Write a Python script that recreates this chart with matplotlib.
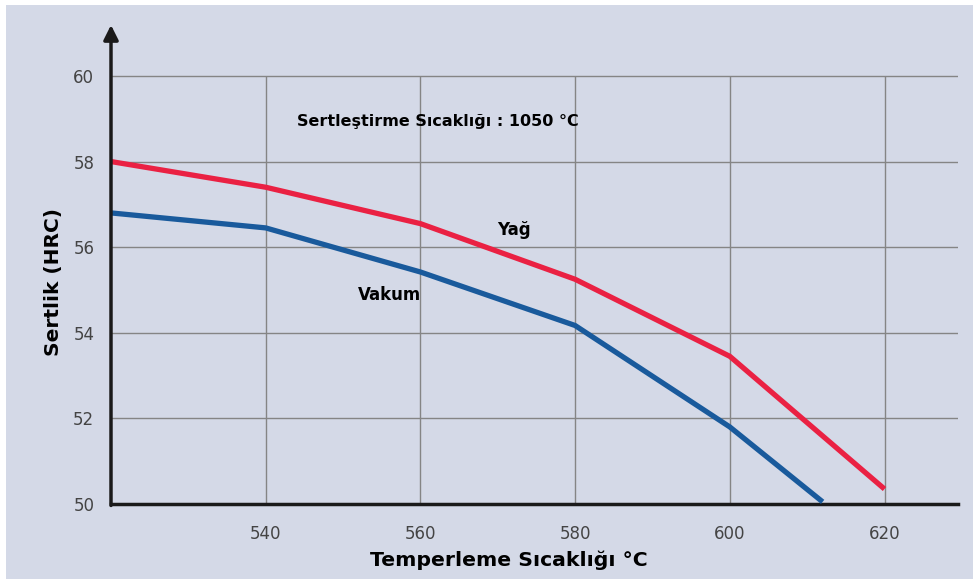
import matplotlib
matplotlib.use('Agg')
import matplotlib.pyplot as plt
from matplotlib.patches import Rectangle

# Tempering temperature (°C) vs hardness (HRC)
temp_yag = [520, 540, 560, 580, 600, 620]
hrc_yag = [58.0, 57.4, 56.55, 55.25, 53.45, 50.35]
temp_vakum = [520, 540, 560, 580, 600, 612]
hrc_vakum = [56.8, 56.45, 55.42, 54.17, 51.8, 50.05]

x_ticks = [540, 560, 580, 600, 620]
y_ticks = [50, 52, 54, 56, 58, 60]

bg = '#d4d9e7'
narrow = ['Liberation Sans Narrow', 'DejaVu Sans']

fig = plt.figure(figsize=(9.73, 5.79), dpi=100, facecolor='white')
fig.patches.append(Rectangle((6 / 973, 0), 1, 1 - 5 / 579, transform=fig.transFigure,
                             facecolor=bg, edgecolor='none', zorder=-1))
ax = fig.add_axes([111 / 973, 1 - 504 / 579, (958 - 111) / 973, (504 - 25) / 579])
ax.set_facecolor('none')
ax.set_xlim(520, 629.5)
ax.set_ylim(50, 61.19)

# grid
ax.vlines(x_ticks, 50, 60, color='#858585', lw=1.0, zorder=1)
ax.hlines(y_ticks[1:], 520, 629.5, color='#858585', lw=1.0, zorder=1)

ax.plot(temp_vakum, hrc_vakum, color='#195a9c', lw=3.8, zorder=3, solid_capstyle='butt')
ax.plot(temp_yag, hrc_yag, color='#ea2143', lw=3.8, zorder=3, solid_capstyle='butt')

for s in ['top', 'right', 'left']:
    ax.spines[s].set_visible(False)
ax.spines['bottom'].set_linewidth(2.5)
ax.spines['bottom'].set_color('#1a1a1a')
ax.annotate('', xy=(0, 1), xytext=(0, -0.003), xycoords='axes fraction',
            arrowprops=dict(arrowstyle='-|>', lw=2.5, color='#1a1a1a',
                            mutation_scale=22, shrinkA=0, shrinkB=0))

ax.set_xticks(x_ticks)
ax.set_yticks(y_ticks)
ax.tick_params(length=0, labelsize=12, labelcolor='#444444')
ax.tick_params(axis='x', pad=15)
ax.tick_params(axis='y', pad=12)
for lab in ax.get_xticklabels() + ax.get_yticklabels():
    lab.set_family(narrow)

ax.set_xlabel('Temperleme Sıcaklığı °C', fontsize=14.7, fontweight='bold')
ax.xaxis.set_label_coords((509 - 111) / 847, -(551 - 504) / 479)
ax.set_ylabel('Sertlik (HRC)', fontsize=14.5, fontweight='bold')
ax.yaxis.set_label_coords(-0.057, (282 - 504) / -479)

ax.text(562.3, 58.93, 'Sertleştirme Sıcaklığı : 1050 °C', fontsize=11.5,
        fontweight='bold', ha='center', va='center')
ax.text(572.1, 56.4, 'Yağ', fontsize=12, fontweight='bold', ha='center', va='center')
ax.text(556, 54.88, 'Vakum', fontsize=12, fontweight='bold', ha='center', va='center')

fig.savefig('out.png', dpi=100, facecolor=fig.get_facecolor())
